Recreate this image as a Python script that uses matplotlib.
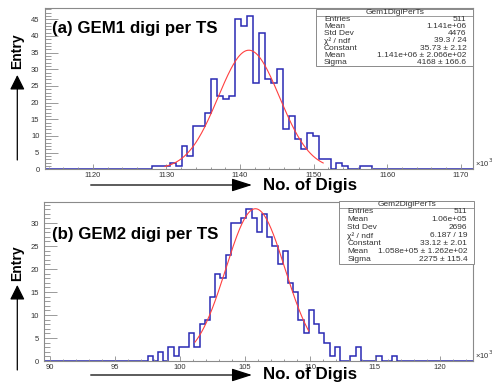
import numpy as np
import matplotlib
matplotlib.use('Agg')
import matplotlib.pyplot as plt
from matplotlib.patches import Rectangle
from matplotlib.lines import Line2D
from matplotlib.ticker import MultipleLocator

plt.rcParams['font.family'] = ['Liberation Sans', 'DejaVu Sans']

# panel (a): GEM1, x in units of 10^3 digis
gem1_first_edge = 1128.0
gem1_bin_width = 0.81
gem1_counts = [1, 1, 1, 2, 1, 7, 4, 13, 13, 17, 27, 22, 21, 22, 45, 43, 46, 26, 41, 27,
               26, 30, 12, 16, 9, 6, 11, 10, 3, 3, 0, 2, 1, 0, 0, 1, 1]
gem1_xlim = (1113.5, 1171.7)
gem1_ymax = 48.3
gem1_xticks = [1120, 1130, 1140, 1150, 1160, 1170]
gem1_yticks = [0, 5, 10, 15, 20, 25, 30, 35, 40, 45]
gem1_fit = {'const': 35.73, 'mean': 1141.2, 'sigma': 4.168, 'lo': 1129.8, 'hi': 1151.3}
gem1_name = 'Gem1DigiPerTs'
gem1_stats = [('Entries', '511'), ('Mean', '1.141e+06'), ('Std Dev', '4476'),
              ('χ² / ndf', '39.3 / 24'), ('Constant', '35.73 ± 2.12'),
              ('Mean', '1.141e+06 ± 2.066e+02'), ('Sigma', '4168 ± 166.6')]

# panel (b): GEM2
gem2_first_edge = 97.5
gem2_bin_width = 0.4
gem2_counts = [1, 0, 2, 0, 3, 1, 3, 3, 6, 3, 8, 9, 14, 19, 18, 23, 30, 30, 31, 33,
               31, 28, 32, 27, 25, 21, 24, 17, 15, 9, 6, 11, 8, 6, 4, 1, 3, 0, 0, 1,
               3, 0, 0, 0, 1, 0, 0, 1]
gem2_xlim = (89.56, 122.56)
gem2_ymax = 34.65
gem2_xticks = [90, 95, 100, 105, 110, 115, 120]
gem2_yticks = [0, 5, 10, 15, 20, 25, 30]
gem2_fit = {'const': 33.12, 'mean': 105.8, 'sigma': 2.275, 'lo': 101.15, 'hi': 109.9}
gem2_name = 'Gem2DigiPerTs'
gem2_stats = [('Entries', '511'), ('Mean', '1.06e+05'), ('Std Dev', '2696'),
              ('χ² / ndf', '6.187 / 19'), ('Constant', '33.12 ± 2.01'),
              ('Mean', '1.058e+05 ± 1.262e+02'), ('Sigma', '2275 ± 115.4')]

W, H = 494, 383
fig = plt.figure(figsize=(W / 100, H / 100), dpi=100)

def fx(x):
    return x / W

def fy(y):
    # y measured from top in pixels
    return 1 - y / H

def draw_panel(box, counts, first, width, xlim, ymax, xticks, yticks, xminor,
               fit, title, title_y, name, stats, statbox, entry_y, arrow_v, digis_y):
    l, t, r, b = box
    ax = fig.add_axes([fx(l), fy(b), fx(r - l), (b - t) / H])
    edges = [xlim[0]] + [first + i * width for i in range(len(counts) + 1)] + [xlim[1]]
    vals = [0] + list(counts) + [0]
    ax.stairs(vals, edges, color='#2a2ab4', lw=1.1)
    xs = np.linspace(fit['lo'], fit['hi'], 200)
    ax.plot(xs, fit['const'] * np.exp(-0.5 * ((xs - fit['mean']) / fit['sigma']) ** 2),
            color='#ff4040', lw=0.8)
    ax.set_xlim(*xlim)
    ax.set_ylim(0, ymax)
    ax.set_xticks(xticks)
    ax.set_yticks(yticks)
    ax.xaxis.set_minor_locator(MultipleLocator(xminor))
    ax.yaxis.set_minor_locator(MultipleLocator(1))
    for s in ax.spines.values():
        s.set_color('#8a8a8a')
        s.set_linewidth(0.8)
    ax.tick_params(axis='y', which='major', direction='in', length=9, width=0.6,
                   color='#8a8a8a', labelsize=5.5, labelcolor='#333333', pad=4)
    ax.tick_params(axis='y', which='minor', direction='in', length=4.5, width=0.6,
                   color='#8a8a8a')
    ax.tick_params(axis='x', which='major', direction='in', length=3.5, width=0.6,
                   color='#8a8a8a', labelsize=5.5, labelcolor='#333333', pad=2)
    ax.tick_params(axis='x', which='minor', direction='in', length=1.8, width=0.6,
                   color='#8a8a8a')
    ax.text(1.003, 0.0, '×10$^3$', transform=ax.transAxes, fontsize=5.5,
            color='#333333', ha='left', va='bottom')
    # title
    fig.text(fx(52), fy(title_y), title, fontsize=12.2, fontweight='bold',
             ha='left', va='center')
    # stats box
    sx0, sy0, sx1, sy1 = statbox
    fig.add_artist(Rectangle((fx(sx0), fy(sy1)), fx(sx1 - sx0), (sy1 - sy0) / H,
                             transform=fig.transFigure, facecolor='white',
                             edgecolor='#8a8a8a', lw=0.7))
    head_h = 6.5
    fig.text(fx((sx0 + sx1) / 2), fy(sy0 + head_h / 2 + 0.3), name, fontsize=6,
             ha='center', va='center', color='#333333')
    fig.add_artist(Line2D([fx(sx0), fx(sx1)], [fy(sy0 + head_h)] * 2,
                          transform=fig.transFigure, color='#8a8a8a', lw=0.6))
    row_h = (sy1 - sy0 - head_h) / len(stats)
    for i, (k, v) in enumerate(stats):
        yy = sy0 + head_h + row_h * (i + 0.5)
        fig.text(fx(sx0 + 8), fy(yy), k, fontsize=6, ha='left', va='center',
                 color='#333333')
        fig.text(fx(sx1 - 7), fy(yy), v, fontsize=6, ha='right', va='center',
                 color='#333333')
    # Entry label with arrow
    fig.text(fx(17), fy(entry_y), 'Entry', fontsize=10, fontweight='bold',
             rotation=90, ha='center', va='center')
    ax.annotate('', xy=(17.3, H - arrow_v[1]), xytext=(17.3, H - arrow_v[0]),
                xycoords='figure pixels', textcoords='figure pixels',
                annotation_clip=False,
                arrowprops=dict(arrowstyle='-|>,head_length=0.9,head_width=0.45',
                                mutation_scale=10, color='black', lw=0.9,
                                shrinkA=0, shrinkB=0))
    # No. of Digis label with arrow
    fig.text(fx(263), fy(digis_y), 'No. of Digis', fontsize=12.2, fontweight='bold',
             ha='left', va='center')
    ax.annotate('', xy=(252, H - digis_y), xytext=(90.7, H - digis_y),
                xycoords='figure pixels', textcoords='figure pixels',
                annotation_clip=False,
                arrowprops=dict(arrowstyle='-|>,head_length=1.25,head_width=0.4',
                                mutation_scale=10, color='black', lw=0.9,
                                shrinkA=0, shrinkB=0))
    return ax

draw_panel((45, 8.3, 473.3, 169.3), gem1_counts, gem1_first_edge, gem1_bin_width,
           gem1_xlim, gem1_ymax, gem1_xticks, gem1_yticks, 2, gem1_fit,
           '(a) GEM1 digi per TS', 28.3, gem1_name, gem1_stats,
           (316, 9.3, 473.3, 66), 51, (160, 75), 185)

draw_panel((44.3, 201.7, 473.3, 361), gem2_counts, gem2_first_edge, gem2_bin_width,
           gem2_xlim, gem2_ymax, gem2_xticks, gem2_yticks, 1, gem2_fit,
           '(b) GEM2 digi per TS', 234.3, gem2_name, gem2_stats,
           (339.3, 201, 474.3, 264), 263, (370, 285), 375)

fig.savefig('out.png', dpi=100)
